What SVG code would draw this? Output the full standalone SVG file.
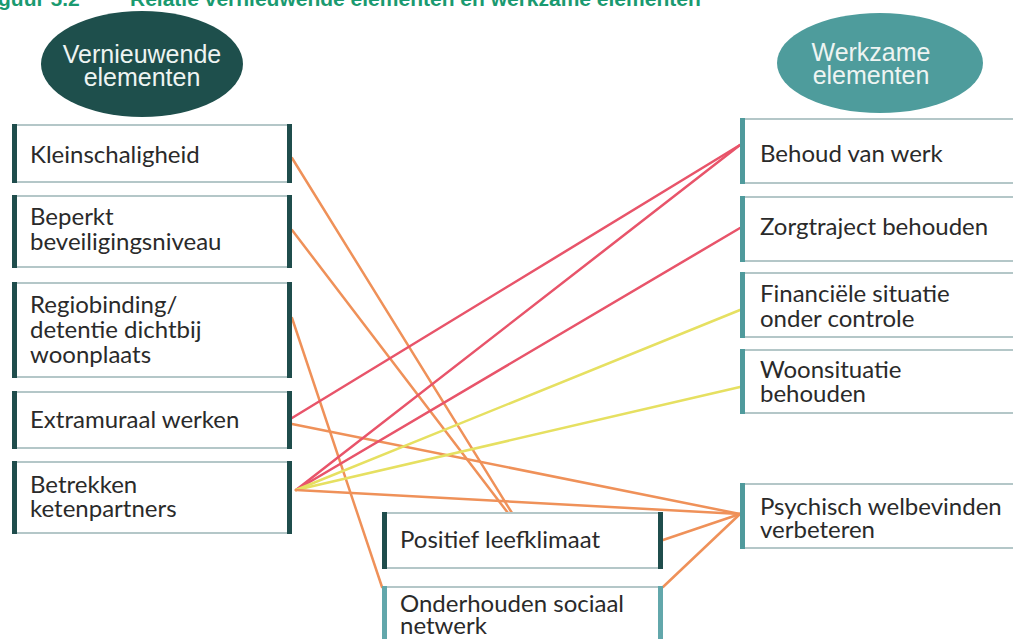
<svg xmlns="http://www.w3.org/2000/svg" width="1013" height="639" viewBox="0 0 1013 639">
<style>
.title{font-family:"Liberation Sans",Arial,sans-serif;font-weight:bold;font-size:21px;fill:#1a9a70}
.head{font-family:"Liberation Sans",Arial,sans-serif;font-size:25px;fill:#eef4f2;text-anchor:middle}
.lbl{font-family:Lato,"Liberation Sans",sans-serif;font-size:24px;fill:#2a2a2a}
.box{fill:#ffffff;stroke:#b4c7c8;stroke-width:2}
.dbar{fill:#1f4d4c}
.tbar{fill:#4f9a9c}
.lbar{fill:#62a7ab}
.c{fill:none;stroke-width:2.5;stroke-linecap:round}
.red{stroke:#e8546a}
.org{stroke:#ef9159}
.yel{stroke:#e6e061}
</style>
<rect width="1013" height="639" fill="#ffffff"/>
<text class="title" x="-2" y="6">guur 5.2</text>
<text class="title" x="130" y="6">Relatie vernieuwende elementen en werkzame elementen</text>

<g id="connectors">
<line class="c org" x1="292" y1="158" x2="512" y2="513"/>
<line class="c org" x1="292" y1="230" x2="508" y2="513"/>
<line class="c org" x1="292" y1="318" x2="382" y2="587"/>
<line class="c red" x1="292" y1="418" x2="740" y2="145"/>
<line class="c org" x1="292" y1="424" x2="740" y2="514"/>
<line class="c red" x1="296" y1="490" x2="740" y2="145"/>
<line class="c red" x1="296" y1="490" x2="740" y2="228"/>
<line class="c yel" x1="296" y1="490" x2="740" y2="310"/>
<line class="c yel" x1="296" y1="490" x2="740" y2="387"/>
<line class="c org" x1="296" y1="490" x2="740" y2="514"/>
<line class="c org" x1="663" y1="540" x2="740" y2="514"/>
<line class="c org" x1="663" y1="587" x2="740" y2="514"/>
</g>

<g id="head-left">
<ellipse cx="142" cy="64" rx="101" ry="53" fill="#1e4f4c"/>
<text class="head" x="142" y="63">Vernieuwende</text>
<text class="head" x="142" y="86">elementen</text>
</g>
<g id="head-right">
<ellipse cx="880" cy="63" rx="103" ry="50" fill="#4e9c9c"/>
<text class="head" x="871" y="61">Werkzame</text>
<text class="head" x="871" y="84">elementen</text>
</g>

<g id="kleinschaligheid">
<rect class="box" x="14" y="125" width="276" height="57"/>
<rect class="dbar" x="12" y="124" width="5" height="59"/>
<rect class="dbar" x="287" y="124" width="5" height="59"/>
<text class="lbl" x="30" y="163">Kleinschaligheid</text>
</g>
<g id="beperkt">
<rect class="box" x="14" y="196" width="276" height="71"/>
<rect class="dbar" x="12" y="195" width="5" height="73"/>
<rect class="dbar" x="287" y="195" width="5" height="73"/>
<text class="lbl" x="30" y="225">Beperkt</text>
<text class="lbl" x="30" y="250">beveiligingsniveau</text>
</g>
<g id="regiobinding">
<rect class="box" x="14" y="283" width="276" height="94"/>
<rect class="dbar" x="12" y="282" width="5" height="96"/>
<rect class="dbar" x="287" y="282" width="5" height="96"/>
<text class="lbl" x="30" y="313">Regiobinding/</text>
<text class="lbl" x="30" y="338">detentie dichtbij</text>
<text class="lbl" x="30" y="363">woonplaats</text>
</g>
<g id="extramuraal">
<rect class="box" x="14" y="392" width="276" height="56"/>
<rect class="dbar" x="12" y="391" width="5" height="58"/>
<rect class="dbar" x="287" y="391" width="5" height="58"/>
<text class="lbl" x="30" y="428">Extramuraal werken</text>
</g>
<g id="betrekken">
<rect class="box" x="14" y="462" width="276" height="71"/>
<rect class="dbar" x="12" y="461" width="5" height="73"/>
<rect class="dbar" x="287" y="461" width="5" height="73"/>
<text class="lbl" x="30" y="493">Betrekken</text>
<text class="lbl" x="30" y="517">ketenpartners</text>
</g>

<g id="positief">
<rect class="box" x="384" y="513" width="277" height="55"/>
<rect class="dbar" x="382" y="512" width="5" height="57"/>
<rect class="dbar" x="658" y="512" width="5" height="57"/>
<text class="lbl" x="400" y="548">Positief leefklimaat</text>
</g>
<g id="onderhouden">
<rect class="box" x="384" y="587" width="277" height="60"/>
<rect class="lbar" x="382" y="586" width="5" height="60"/>
<rect class="lbar" x="658" y="586" width="5" height="60"/>
<text class="lbl" x="400" y="612">Onderhouden sociaal</text>
<text class="lbl" x="400" y="634">netwerk</text>
</g>

<g id="behoud">
<rect class="box" x="743" y="119" width="275" height="64"/>
<rect class="tbar" x="740" y="118" width="5" height="66"/>
<text class="lbl" x="760" y="162">Behoud van werk</text>
</g>
<g id="zorgtraject">
<rect class="box" x="743" y="197" width="275" height="64"/>
<rect class="tbar" x="740" y="196" width="5" height="66"/>
<text class="lbl" x="760" y="235">Zorgtraject behouden</text>
</g>
<g id="financiele">
<rect class="box" x="743" y="273" width="275" height="64"/>
<rect class="tbar" x="740" y="272" width="5" height="66"/>
<text class="lbl" x="760" y="302">Financiële situatie</text>
<text class="lbl" x="760" y="327">onder controle</text>
</g>
<g id="woonsituatie">
<rect class="box" x="743" y="350" width="275" height="63"/>
<rect class="tbar" x="740" y="349" width="5" height="65"/>
<text class="lbl" x="760" y="378">Woonsituatie</text>
<text class="lbl" x="760" y="402">behouden</text>
</g>
<g id="psychisch">
<rect class="box" x="743" y="484" width="275" height="64"/>
<rect class="tbar" x="740" y="483" width="5" height="66"/>
<text class="lbl" x="760" y="515">Psychisch welbevinden</text>
<text class="lbl" x="760" y="538">verbeteren</text>
</g>
</svg>
